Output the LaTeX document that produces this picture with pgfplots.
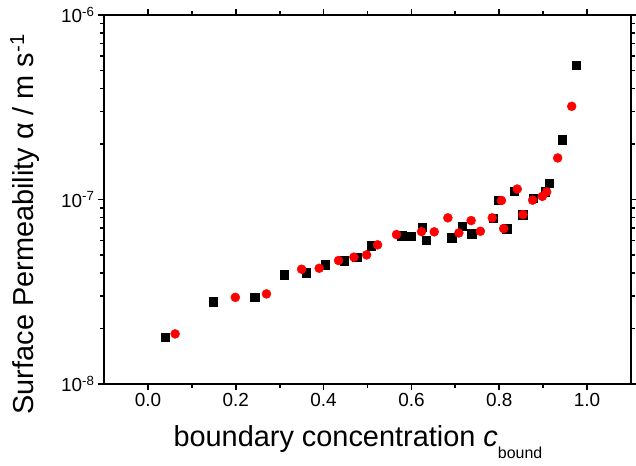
\documentclass[border=0pt]{standalone}
\usepackage{fontspec}
\setmainfont{Liberation Sans}
\usepackage{pgfplots}
\pgfplotsset{compat=1.18}

\begin{document}
\begin{tikzpicture}
\useasboundingbox (0,0) rectangle (636bp,466bp);
\begin{axis}[
  at={(104bp,82bp)}, anchor=south west,
  scale only axis, width=527bp, height=369bp,
  xmin=-0.1, xmax=1.1,
  ymode=log, ymin=1e-8, ymax=1e-6,
  xtick={0,0.2,0.4,0.6,0.8,1},
  xticklabels={0.0,0.2,0.4,0.6,0.8,1.0},
  minor xtick={0.1,0.3,0.5,0.7,0.9},
  ytick={1e-8,1e-7,1e-6},
  yticklabels={10\textsuperscript{-8},10\textsuperscript{-7},10\textsuperscript{-6}},
  minor ytick={2e-8,3e-8,4e-8,5e-8,6e-8,7e-8,8e-8,9e-8,2e-7,3e-7,4e-7,5e-7,6e-7,7e-7,8e-7,9e-7},
  tick align=outside,
  major tick length=6bp, minor tick length=4bp,
  every tick/.style={black, line width=1.8pt},
  axis line style={line width=2.2pt},
  tick label style={font=\fontsize{19}{21}\selectfont},
  xlabel={boundary concentration \textit{c}\raisebox{-0.4em}{\fontsize{16}{18}\selectfont bound}},
  xlabel style={at={(axis description cs:0.1252,-0.170)}, anchor=base west,
    font=\fontsize{29}{31}\selectfont},
  ylabel={Surface Permeability α / m s\textsuperscript{-1}},
  ylabel style={at={(axis description cs:-0.1347,-0.092)}, anchor=base west,
    font=\fontsize{29}{31}\selectfont},
]
% black squares
\addplot[only marks, mark=square*, mark size=4.2bp, color=black] coordinates {
  (0.040,1.79e-8) (0.149,2.80e-8) (0.243,2.95e-8) (0.310,3.92e-8)
  (0.360,4.02e-8) (0.404,4.44e-8) (0.447,4.67e-8) (0.475,4.87e-8)
  (0.508,5.63e-8) (0.578,6.38e-8) (0.600,6.33e-8) (0.624,7.08e-8)
  (0.633,6.00e-8) (0.692,6.22e-8) (0.715,7.16e-8) (0.737,6.54e-8)
  (0.786,7.92e-8) (0.798,9.92e-8) (0.817,6.96e-8) (0.834,1.11e-7)
  (0.853,8.26e-8) (0.877,1.02e-7) (0.904,1.10e-7) (0.914,1.23e-7)
  (0.944,2.11e-7) (0.975,5.33e-7)
};
% red circles
\addplot[only marks, mark=*, mark size=4.5bp, color=red] coordinates {
  (0.062,1.87e-8) (0.199,2.95e-8) (0.270,3.08e-8) (0.350,4.19e-8)
  (0.390,4.24e-8) (0.434,4.67e-8) (0.469,4.87e-8) (0.498,5.01e-8)
  (0.523,5.68e-8) (0.566,6.46e-8) (0.623,6.70e-8) (0.652,6.68e-8)
  (0.683,7.96e-8) (0.708,6.59e-8) (0.736,7.69e-8) (0.757,6.73e-8)
  (0.784,7.96e-8) (0.805,9.88e-8) (0.810,6.96e-8) (0.841,1.14e-7)
  (0.854,8.29e-8) (0.876,9.92e-8) (0.898,1.04e-7) (0.908,1.10e-7)
  (0.933,1.68e-7) (0.965,3.20e-7)
};
\end{axis}
\end{tikzpicture}
\end{document}
